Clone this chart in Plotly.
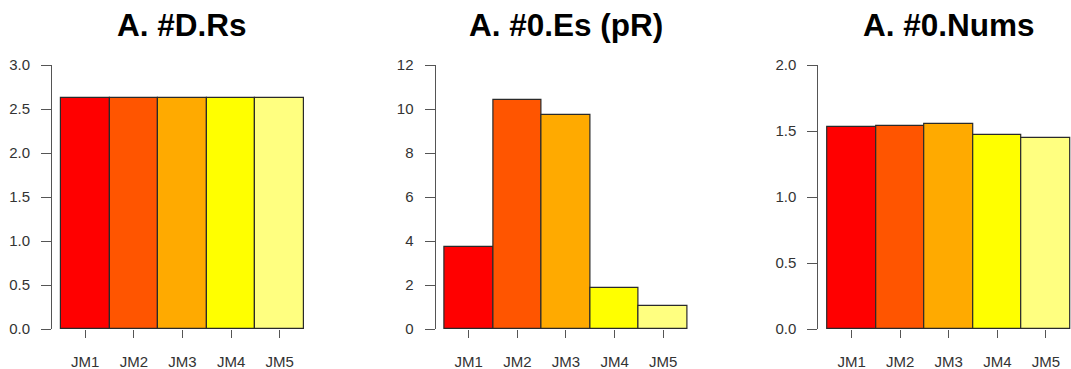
import plotly.graph_objects as go

# Bar categories and the three measured series
categories = ["JM1", "JM2", "JM3", "JM4", "JM5"]
titles = ["A. #D.Rs", "A. #0.Es (pR)", "A. #0.Nums"]
d_rs = [2.63, 2.63, 2.63, 2.63, 2.63]
es_pr = [3.74, 10.39, 9.71, 1.86, 1.06]
nums = [1.533, 1.540, 1.551, 1.470, 1.447]

# y-axis tick labels per panel
ticks_1 = [0.0, 0.5, 1.0, 1.5, 2.0, 2.5, 3.0]
ticks_2 = [0, 2, 4, 6, 8, 10, 12]
ticks_3 = [0.0, 0.5, 1.0, 1.5, 2.0]

heat_colors = ["#FF0000", "#FF5500", "#FFAA00", "#FFFF00", "#FFFF80"]

W, H = 1071, 369
FONT = "Liberation Sans, Arial, Helvetica, sans-serif"

# pixel geometry of each panel: left axis position, plot top/bottom
panel_left = [52.0, 435.5, 818.3]
unit_px = 48.6          # width of one bar in pixels
pad_units = 0.185       # gap between axis line and first bar, in bar widths
y_top, y_bot = 65.0, 329.0

series = [d_rs, es_pr, nums]
ticksets = [ticks_1, ticks_2, ticks_3]
tickfmt = [".1f", "d", ".1f"]

fig = go.Figure()
layout = dict(
    width=W, height=H,
    margin=dict(l=0, r=0, t=0, b=0, autoexpand=False),
    paper_bgcolor="white", plot_bgcolor="white",
    showlegend=False, bargap=0,
    font=dict(family=FONT, color="#333333"),
)

annotations = []
for i, (vals, tks) in enumerate(zip(series, ticksets)):
    n = i + 1
    xa = "x" if n == 1 else f"x{n}"
    ya = "y" if n == 1 else f"y{n}"
    left_px = panel_left[i]
    x0 = -0.5 - pad_units
    x1 = 4.5 + pad_units
    right_px = min(left_px + (x1 - x0) * unit_px, W)
    x1 = x0 + (right_px - left_px) / unit_px

    fig.add_trace(go.Bar(
        x=categories, y=vals, xaxis=xa, yaxis=ya, width=1,
        marker=dict(color=heat_colors, line=dict(color="#2a2a2a", width=1.2)),
        hoverinfo="x+y",
    ))

    layout["xaxis" if n == 1 else f"xaxis{n}"] = dict(
        domain=[left_px / W, right_px / W], range=[x0, x1],
        anchor=ya, type="category", automargin=False,
        showline=False, showgrid=False, zeroline=False,
        ticks="outside", ticklen=8, tickwidth=1, tickcolor="#555555",
        tickfont=dict(size=15, color="#333333"), ticklabelstandoff=11,
    )
    ymax = tks[-1]
    layout["yaxis" if n == 1 else f"yaxis{n}"] = dict(
        domain=[(H - y_bot) / H, (H - y_top) / H], range=[0, ymax],
        anchor=xa, tickvals=tks, tickformat=tickfmt[i], automargin=False,
        showline=True, linecolor="#555555", linewidth=1,
        showgrid=False, zeroline=False,
        ticks="outside", ticklen=10, tickwidth=1, tickcolor="#555555",
        tickfont=dict(size=15, color="#333333"), ticklabelstandoff=8,
    )

    # title centred over the bars
    bars_mid_px = left_px + (pad_units + 2.5) * unit_px
    annotations.append(dict(
        text=f"<b>{titles[i]}</b>", x=bars_mid_px / W, y=(H - 25) / H,
        xref="paper", yref="paper", xanchor="center", yanchor="middle",
        showarrow=False, font=dict(size=31.5, color="#000000", family=FONT),
    ))

layout["annotations"] = annotations
fig.update_layout(**layout)
fig.write_html("out.html")
